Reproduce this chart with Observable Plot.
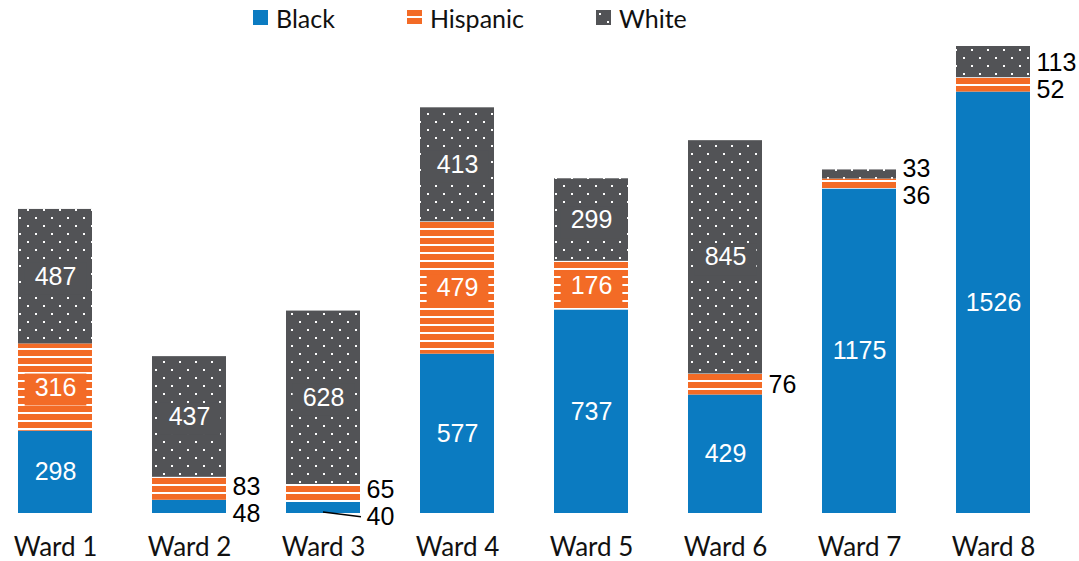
<!DOCTYPE html>
<html><head><meta charset="utf-8">
<script src="https://cdn.jsdelivr.net/npm/d3@7"></script>
<script src="https://cdn.jsdelivr.net/npm/@observablehq/plot@0.6"></script>
<style>
body{margin:0;background:#fff;width:1079px;height:561px;overflow:hidden;font-family:Lato,sans-serif}
#legend{height:38px;display:flex;align-items:center;padding-left:253px;padding-bottom:3px;font-size:25px;color:#111;box-sizing:border-box}
.item{display:flex;align-items:center;margin-right:72px}
.item svg{margin-right:8px}
</style></head><body>
<svg width="0" height="0" style="position:absolute">
<defs>
<pattern id="stripes" patternUnits="userSpaceOnUse" width="8" height="8"><rect width="8" height="8" fill="#f36b26"/><rect y="6" width="8" height="2" fill="#fff"/></pattern>
<pattern id="dots" patternUnits="userSpaceOnUse" width="16" height="16"><rect width="16" height="16" fill="#525356"/><rect x="3" y="3" width="2" height="2" fill="#fff"/><rect x="11" y="11" width="2" height="2" fill="#fff"/></pattern>
</defs></svg>
<div id="legend"></div>
<div id="chart"></div>
<script>
const wards = ["Ward 1","Ward 2","Ward 3","Ward 4","Ward 5","Ward 6","Ward 7","Ward 8"];
const groups = ["Black","Hispanic","White"];
const black = [298,48,40,577,737,429,1175,1526];
const hispanic = [316,83,65,479,176,76,36,52];
const white = [487,437,628,413,299,845,33,113];
const leaderWards = ["Ward 3"];

const solid = {Black:"#0b7bc1", Hispanic:"#f36b26", White:"#525356"};
const fills = ["#0b7bc1","url(#stripes)","url(#dots)"];

// legend
const legend = document.getElementById("legend");
groups.forEach((g,i)=>{
  const it = document.createElement("div"); it.className="item";
  it.innerHTML = `<svg width="15" height="15"><rect width="15" height="15" fill="${fills[i]}"/></svg><span>${g}</span>`;
  legend.appendChild(it);
});

const series = [black, hispanic, white];
const rows = [];
wards.forEach((w,i)=>{
  let acc = 0;
  groups.forEach((g,j)=>{
    const v = series[j][i];
    rows.push({ward:w, group:g, value:v, y1:acc, y2:acc+v, mid:acc+v/2});
    acc += v;
  });
});

const ymax = d3.max(wards.map((w,i)=>black[i]+hispanic[i]+white[i]));
const H = 523, MT = 8, MB = 48;
const k = (H-MT-MB)/ymax;
const threshold = 150;
const inside = rows.filter(d=>d.value>=threshold);
const outside = rows.filter(d=>d.value<threshold).map(d=>({...d, ly:d.mid}));
// spread overlapping outside labels
const minGap = 27/k;
d3.groups(outside, d=>d.ward).forEach(([w, arr])=>{
  if (arr.length===2) {
    arr.sort((a,b)=>a.mid-b.mid);
    const c = (arr[0].mid+arr[1].mid)/2 - 3/k;
    if (arr[1].mid-arr[0].mid < minGap) {
      arr[0].ly = c - minGap/2; arr[1].ly = c + minGap/2;
    }
  }
});

const plot = Plot.plot({
  width: 1079, height: H,
  marginLeft: 4, marginRight: 35, marginTop: MT, marginBottom: MB,
  style: {fontFamily: "Lato, sans-serif", fontSize: "26px", color: "#111", background: "#fff"},
  x: {domain: wards, paddingInner: 0.448, paddingOuter: 0.1, tickSize: 0, tickPadding: 24, label: null},
  y: {domain: [0, ymax], axis: null},
  color: {domain: groups, range: fills},
  marks: [
    Plot.barY(rows, Plot.stackY({x:"ward", y:"value", fill:"group", z:"group"})),
    Plot.text(inside, {x:"ward", y:"mid", text:d=>String(d.value), fill:"#fff", fontSize:25, fontFamily:"Liberation Sans, Arial, sans-serif"}),
    Plot.text(outside, {x:"ward", y:"ly", text:d=>String(d.value), fill:"#000", fontSize:25, fontFamily:"Liberation Sans, Arial, sans-serif", textAnchor:"start", dx:43})
  ]
});
document.getElementById("chart").appendChild(plot);

// background boxes behind inside labels (patterned segments only)
const ns = "http://www.w3.org/2000/svg";
const insideText = new Set(inside.map(d=>String(d.value)));
const allTexts = Array.from(plot.querySelectorAll("text"));
const texts = allTexts.filter(t=>{
  const f = t.closest("g[fill]");
  return f && /^#fff/i.test(f.getAttribute("fill")) && insideText.has(t.textContent);
});
texts.forEach((t,i)=>{
  const d = inside[i];
  if (!d || d.group === "Black") return;
  const b = t.getBBox();
  const r = document.createElementNS(ns,"rect");
  r.setAttribute("x", b.x-10); r.setAttribute("y", b.y+1);
  r.setAttribute("width", b.width+20); r.setAttribute("height", b.height+4);
  r.setAttribute("fill", solid[d.group]);
  const tr = t.getAttribute("transform");
  if (tr) r.setAttribute("transform", tr);
  t.parentNode.insertBefore(r, t);
});

// leader lines
const xs = plot.scale("x"), ys = plot.scale("y");
outside.filter(d=>d.group==="Black" && leaderWards.includes(d.ward)).forEach(d=>{
  const x0 = xs.apply(d.ward);
  const l = document.createElementNS(ns,"path");
  l.setAttribute("d", `M${x0+xs.bandwidth/2},${ys.apply(0)-1}L${x0+xs.bandwidth+1},${ys.apply(d.ly)}`);
  l.setAttribute("stroke","#000"); l.setAttribute("stroke-width","1.5"); l.setAttribute("fill","none");
  plot.appendChild(l);
});
</script>
</body></html>
